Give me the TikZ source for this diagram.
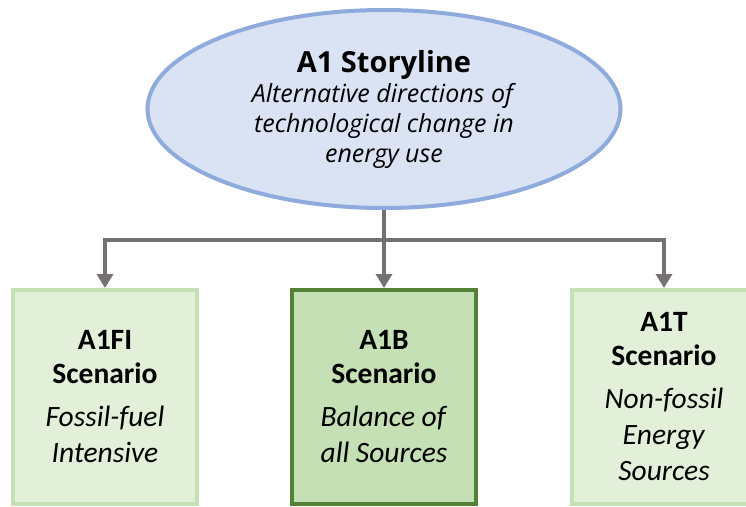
\documentclass[tikz,border=0pt]{standalone}
\usepackage{fontspec}
\setmainfont{Carlito}
\newfontfamily\storyfont{Open Sans}
\usepackage{tikz}
\usetikzlibrary{arrows.meta,positioning,shapes.geometric}
\definecolor{storyfill}{HTML}{DAE3F3}
\definecolor{storyedge}{HTML}{8FAADC}
\definecolor{scenfill}{HTML}{E2F0D9}
\definecolor{scenedge}{HTML}{C5E0B4}
\definecolor{keyedge}{HTML}{548235}
\definecolor{linkgray}{HTML}{767171}
\tikzset{
  story/.style={ellipse, draw=storyedge, fill=storyfill, line width=4pt, minimum width=473pt, minimum height=198pt, inner sep=0pt, align=center, font=\storyfont\fontsize{25}{30}\selectfont},
  scen/.style={rectangle, draw=scenedge, fill=scenfill, line width=4pt, minimum width=184pt, minimum height=214pt, inner sep=0pt, align=center, font=\fontsize{29.5}{36}\selectfont},
  keyscen/.style={scen, draw=keyedge, fill=scenedge},
  link/.style={linkgray, line width=4pt},
  flow/.style={link, -{Triangle[length=14pt, width=16pt]}},
}

\begin{document}
\begin{tikzpicture}[x=1pt, y=-1pt]
  \useasboundingbox (0,0) rectangle (746,506);
  \node[story] (story) at (384,109)
    {\textbf{\fontsize{29}{30}\selectfont A1 Storyline}\\
     \textit{Alternative directions of}\\\textit{technological change in}\\\textit{energy use}};
  \node[scen] (fi) at (105,397)
    {\textbf{A1FI}\\[-2pt]\textbf{Scenario}\\[7pt]\textit{Fossil-fuel}\\\textit{Intensive}};
  \node[keyscen] (b) at (384,397)
    {\textbf{A1B}\\[-2pt]\textbf{Scenario}\\[7pt]\textit{Balance of}\\\textit{all Sources}};
  \node[scen] (t) at (664,397)
    {\textbf{A1T}\\[-2pt]\textbf{Scenario}\\[7pt]\textit{Non-fossil}\\\textit{Energy}\\\textit{Sources}};
  \coordinate (bus) at (384,240);
  \draw[link] (story.south) -- (bus);
  \draw[flow] (bus) -| (fi.north);
  \draw[flow] (bus) -- (b.north);
  \draw[flow] (bus) -| (t.north);
\end{tikzpicture}
\end{document}
